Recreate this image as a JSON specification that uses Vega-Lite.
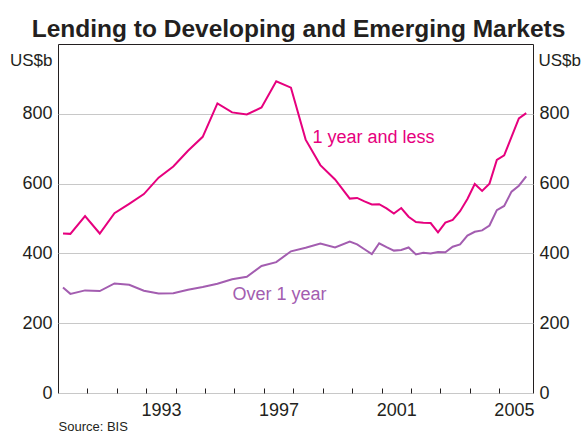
{
  "$schema": "https://vega.github.io/schema/vega-lite/v6.json",
  "width": 475,
  "height": 349,
  "autosize": {"type": "none"},
  "padding": {"left": 58, "top": 44, "right": 50, "bottom": 41},
  "background": "white",
  "title": {
    "text": "Lending to Developing and Emerging Markets",
    "font": "Liberation Sans",
    "fontSize": 24.5,
    "fontWeight": "bold",
    "color": "#231f20",
    "anchor": "middle",
    "dx": 3,
    "offset": -17,
    "baseline": "alphabetic"
  },
  "config": {
    "view": {"stroke": "#231f20", "strokeWidth": 1},
    "font": "Liberation Sans",
    "axis": {
      "labelFont": "Liberation Sans",
      "titleFont": "Liberation Sans",
      "labelColor": "#231f20",
      "titleColor": "#231f20",
      "labelFontSize": 18,
      "titleFontWeight": "normal"
    }
  },
  "datasets": {
    "lending": [
      {"t": 1990.17, "v": 457, "series": "1 year and less"},
      {"t": 1990.42, "v": 456, "series": "1 year and less"},
      {"t": 1990.92, "v": 507, "series": "1 year and less"},
      {"t": 1991.42, "v": 457, "series": "1 year and less"},
      {"t": 1991.92, "v": 515, "series": "1 year and less"},
      {"t": 1992.42, "v": 542, "series": "1 year and less"},
      {"t": 1992.92, "v": 570, "series": "1 year and less"},
      {"t": 1993.42, "v": 617, "series": "1 year and less"},
      {"t": 1993.92, "v": 649, "series": "1 year and less"},
      {"t": 1994.42, "v": 694, "series": "1 year and less"},
      {"t": 1994.92, "v": 734, "series": "1 year and less"},
      {"t": 1995.42, "v": 830, "series": "1 year and less"},
      {"t": 1995.92, "v": 804, "series": "1 year and less"},
      {"t": 1996.42, "v": 798, "series": "1 year and less"},
      {"t": 1996.92, "v": 818, "series": "1 year and less"},
      {"t": 1997.42, "v": 893, "series": "1 year and less"},
      {"t": 1997.92, "v": 875, "series": "1 year and less"},
      {"t": 1998.42, "v": 726, "series": "1 year and less"},
      {"t": 1998.92, "v": 653, "series": "1 year and less"},
      {"t": 1999.42, "v": 612, "series": "1 year and less"},
      {"t": 1999.92, "v": 557, "series": "1 year and less"},
      {"t": 2000.17, "v": 559, "series": "1 year and less"},
      {"t": 2000.42, "v": 549, "series": "1 year and less"},
      {"t": 2000.67, "v": 540, "series": "1 year and less"},
      {"t": 2000.92, "v": 541, "series": "1 year and less"},
      {"t": 2001.17, "v": 529, "series": "1 year and less"},
      {"t": 2001.42, "v": 514, "series": "1 year and less"},
      {"t": 2001.67, "v": 530, "series": "1 year and less"},
      {"t": 2001.92, "v": 505, "series": "1 year and less"},
      {"t": 2002.17, "v": 490, "series": "1 year and less"},
      {"t": 2002.42, "v": 488, "series": "1 year and less"},
      {"t": 2002.67, "v": 487, "series": "1 year and less"},
      {"t": 2002.92, "v": 460, "series": "1 year and less"},
      {"t": 2003.17, "v": 488, "series": "1 year and less"},
      {"t": 2003.42, "v": 496, "series": "1 year and less"},
      {"t": 2003.67, "v": 521, "series": "1 year and less"},
      {"t": 2003.92, "v": 556, "series": "1 year and less"},
      {"t": 2004.17, "v": 599, "series": "1 year and less"},
      {"t": 2004.42, "v": 579, "series": "1 year and less"},
      {"t": 2004.67, "v": 600, "series": "1 year and less"},
      {"t": 2004.92, "v": 668, "series": "1 year and less"},
      {"t": 2005.17, "v": 681, "series": "1 year and less"},
      {"t": 2005.42, "v": 734, "series": "1 year and less"},
      {"t": 2005.67, "v": 787, "series": "1 year and less"},
      {"t": 2005.92, "v": 802, "series": "1 year and less"},
      {"t": 1990.17, "v": 302, "series": "Over 1 year"},
      {"t": 1990.42, "v": 284, "series": "Over 1 year"},
      {"t": 1990.92, "v": 294, "series": "Over 1 year"},
      {"t": 1991.42, "v": 292, "series": "Over 1 year"},
      {"t": 1991.92, "v": 314, "series": "Over 1 year"},
      {"t": 1992.42, "v": 310, "series": "Over 1 year"},
      {"t": 1992.92, "v": 293, "series": "Over 1 year"},
      {"t": 1993.42, "v": 285, "series": "Over 1 year"},
      {"t": 1993.92, "v": 286, "series": "Over 1 year"},
      {"t": 1994.42, "v": 296, "series": "Over 1 year"},
      {"t": 1994.92, "v": 304, "series": "Over 1 year"},
      {"t": 1995.42, "v": 313, "series": "Over 1 year"},
      {"t": 1995.92, "v": 326, "series": "Over 1 year"},
      {"t": 1996.42, "v": 333, "series": "Over 1 year"},
      {"t": 1996.92, "v": 364, "series": "Over 1 year"},
      {"t": 1997.42, "v": 375, "series": "Over 1 year"},
      {"t": 1997.92, "v": 406, "series": "Over 1 year"},
      {"t": 1998.42, "v": 416, "series": "Over 1 year"},
      {"t": 1998.92, "v": 428, "series": "Over 1 year"},
      {"t": 1999.42, "v": 417, "series": "Over 1 year"},
      {"t": 1999.92, "v": 434, "series": "Over 1 year"},
      {"t": 2000.17, "v": 426, "series": "Over 1 year"},
      {"t": 2000.42, "v": 412, "series": "Over 1 year"},
      {"t": 2000.67, "v": 398, "series": "Over 1 year"},
      {"t": 2000.92, "v": 429, "series": "Over 1 year"},
      {"t": 2001.17, "v": 418, "series": "Over 1 year"},
      {"t": 2001.42, "v": 408, "series": "Over 1 year"},
      {"t": 2001.67, "v": 410, "series": "Over 1 year"},
      {"t": 2001.92, "v": 417, "series": "Over 1 year"},
      {"t": 2002.17, "v": 397, "series": "Over 1 year"},
      {"t": 2002.42, "v": 402, "series": "Over 1 year"},
      {"t": 2002.67, "v": 400, "series": "Over 1 year"},
      {"t": 2002.92, "v": 404, "series": "Over 1 year"},
      {"t": 2003.17, "v": 403, "series": "Over 1 year"},
      {"t": 2003.42, "v": 419, "series": "Over 1 year"},
      {"t": 2003.67, "v": 426, "series": "Over 1 year"},
      {"t": 2003.92, "v": 451, "series": "Over 1 year"},
      {"t": 2004.17, "v": 462, "series": "Over 1 year"},
      {"t": 2004.42, "v": 466, "series": "Over 1 year"},
      {"t": 2004.67, "v": 480, "series": "Over 1 year"},
      {"t": 2004.92, "v": 524, "series": "Over 1 year"},
      {"t": 2005.17, "v": 536, "series": "Over 1 year"},
      {"t": 2005.42, "v": 577, "series": "Over 1 year"},
      {"t": 2005.67, "v": 594, "series": "Over 1 year"},
      {"t": 2005.92, "v": 621, "series": "Over 1 year"}
    ],
    "labels": [
      {"t": 1998.65, "v": 731, "series": "1 year and less", "label": "1 year and less"},
      {"t": 1995.93, "v": 280, "series": "Over 1 year", "label": "Over 1 year"}
    ]
  },
  "layer": [
    {
      "data": {"name": "lending"},
      "mark": {"type": "line", "strokeWidth": 2, "interpolate": "linear"},
      "encoding": {
        "x": {
          "field": "t",
          "type": "quantitative",
          "scale": {"domain": [1990, 2006.15], "nice": false, "zero": false},
          "axis": {
            "orient": "bottom",
            "offset": -5,
            "values": [1991, 1992, 1993, 1994, 1995, 1996, 1997, 1998, 1999, 2000, 2001, 2002, 2003, 2004, 2005],
            "labelExpr": "''",
            "ticks": true,
            "tickSize": 5,
            "tickColor": "#231f20",
            "tickWidth": 1,
            "domain": false,
            "grid": false,
            "title": " ",
            "titleFontSize": 2
          }
        },
        "y": {
          "field": "v",
          "type": "quantitative",
          "scale": {"domain": [0, 1000], "nice": false},
          "axis": {
            "orient": "left",
            "values": [0, 200, 400, 600, 800],
            "grid": true,
            "gridColor": "#c8c8c8",
            "gridWidth": 1,
            "ticks": false,
            "domain": false,
            "labelPadding": 6,
            "title": "US$b",
            "titleAngle": 0,
            "titleAlign": "right",
            "titleBaseline": "alphabetic",
            "titleX": -6,
            "titleY": 21,
            "titleFontSize": 17
          }
        },
        "color": {
          "field": "series",
          "type": "nominal",
          "scale": {"domain": ["1 year and less", "Over 1 year"], "range": ["#e6007e", "#a35db0"]},
          "legend": null
        }
      }
    },
    {
      "data": {"name": "labels"},
      "mark": {"type": "text", "align": "left", "baseline": "middle", "fontSize": 18, "font": "Liberation Sans"},
      "encoding": {
        "x": {
          "field": "t",
          "type": "quantitative",
          "scale": {"domain": [1990, 2006.15], "nice": false, "zero": false},
          "axis": {
            "orient": "bottom",
            "values": [1993.5, 1997.5, 2001.5, 2005.5],
            "labelExpr": "'' + floor(datum.value)",
            "ticks": false,
            "domain": false,
            "grid": false,
            "labelPadding": 8,
            "title": "Source: BIS",
            "titleAnchor": "start",
            "titleAlign": "left",
            "titleBaseline": "alphabetic",
            "titleX": 0,
            "titleY": 37,
            "titleFontSize": 13
          }
        },
        "y": {
          "field": "v",
          "type": "quantitative",
          "axis": {
            "orient": "right",
            "values": [0, 200, 400, 600, 800],
            "grid": false,
            "ticks": false,
            "domain": false,
            "labelPadding": 6,
            "title": "US$b",
            "titleAngle": 0,
            "titleAlign": "left",
            "titleBaseline": "alphabetic",
            "titleX": 5,
            "titleY": 21,
            "titleFontSize": 17
          }
        },
        "text": {"field": "label"},
        "color": {"field": "series", "type": "nominal", "legend": null}
      }
    }
  ],
  "resolve": {"scale": {"x": "independent"}, "axis": {"x": "independent", "y": "independent"}}
}
